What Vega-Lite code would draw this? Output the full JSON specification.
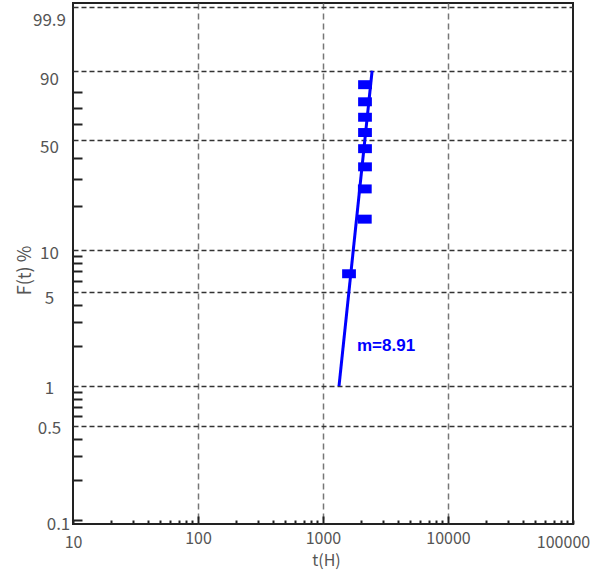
{
  "$schema": "https://vega.github.io/schema/vega-lite/v6.json",
  "width": 500,
  "height": 521,
  "autosize": "none",
  "padding": {"left": 73, "top": 3, "right": 35, "bottom": 49},
  "background": "white",
  "config": {
    "view": {"stroke": "#222", "strokeWidth": 2},
    "font": "Noto Sans CJK JP"
  },
  "datasets": {
    "fit": [{"t": 1343, "F": 1}, {"t": 2471, "F": 90}],
    "obs": [
      {"t": 1615, "F": 6.73},
      {"t": 2160, "F": 16.35},
      {"t": 2160, "F": 25.96},
      {"t": 2168, "F": 35.58},
      {"t": 2168, "F": 45.19},
      {"t": 2168, "F": 54.81},
      {"t": 2168, "F": 64.42},
      {"t": 2168, "F": 74.04},
      {"t": 2168, "F": 83.65}
    ],
    "note": [{"t": 1871, "F": 1.99, "label": "m=8.91"}]
  },
  "encoding": {
    "x": {
      "field": "t",
      "type": "quantitative",
      "scale": {"type": "log", "domain": [10, 100000], "nice": false},
      "axis": {
        "values": [10, 20, 30, 40, 50, 60, 70, 80, 90, 100, 200, 300, 400, 500, 600, 700, 800, 900, 1000, 2000, 3000, 4000, 5000, 6000, 7000, 8000, 9000, 10000, 20000, 30000, 40000, 50000, 60000, 70000, 80000, 90000, 100000],
        "labelExpr": "indexof([10,100,1000,10000,100000], datum.value) >= 0 ? format(datum.value, 'd') : ''",
        "labelFontSize": 16,
        "labelColor": "#555",
        "labelFlush": false,
        "labelOverlap": false,
        "labelBound": false,
        "labelPadding": 14,
        "labelOffset": {"condition": {"test": "datum.value == 100000", "value": -10}, "value": 0},
        "domain": false,
        "grid": true,
        "gridColor": "#777",
        "gridDash": [6, 4],
        "gridWidth": 1.5,
        "gridOpacity": {"condition": {"test": "datum.value == 100 || datum.value == 1000 || datum.value == 10000", "value": 1}, "value": 0},
        "ticks": true,
        "tickColor": "#222",
        "tickWidth": 2,
        "tickSize": {"condition": {"test": "datum.value == 100 || datum.value == 1000 || datum.value == 10000", "value": -8}, "value": -4},
        "title": "t(H)",
        "titleFontSize": 16,
        "titleFontWeight": "normal",
        "titleColor": "#555",
        "titleX": 253,
        "titleY": 36,
        "titleAlign": "center",
        "titleBaseline": "middle"
      }
    },
    "y": {
      "field": "W",
      "type": "quantitative",
      "scale": {"domain": [-6.976, 2.0015], "nice": false, "zero": false},
      "axis": {
        "values": [-6.90725, -6.21361, -5.80765, -5.51947, -5.29582, -5.11299, -4.95833, -4.82431, -4.70601, -4.60015, -3.90193, -3.4914, -3.19853, -2.97019, -2.78262, -2.62319, -2.48433, -2.36117, -2.25037, -1.49994, -1.03093, -0.67173, -0.36651, -0.08742, 0.18563, 0.47588, 0.83403, 1.93264],
        "labelExpr": "indexof([-6.90725,-5.29582,-4.60015,-2.97019,-2.25037,-0.36651,0.83403,1.93264], datum.value) >= 0 ? format((1 - exp(-exp(datum.value))) * 100, '.3~r') : ''",
        "labelFontSize": 17,
        "labelColor": "#555",
        "labelAlign": "center",
        "labelOverlap": false,
        "labelBound": false,
        "labelFlush": false,
        "labelPadding": 24,
        "labelOffset": {
          "condition": [
            {"test": "datum.value > 1.9", "value": 14},
            {"test": "datum.value > 0.8", "value": 9},
            {"test": "datum.value > -0.4", "value": 7},
            {"test": "datum.value > -2.3", "value": 4},
            {"test": "datum.value > -3.0", "value": 7},
            {"test": "datum.value > -4.7", "value": 2},
            {"test": "datum.value > -5.3", "value": 2}
          ],
          "value": 4
        },
        "domain": false,
        "grid": true,
        "gridColor": "#333",
        "gridDash": [5, 3],
        "gridWidth": 1.5,
        "gridOpacity": {"condition": {"test": "indexof([-5.29582,-4.60015,-2.97019,-2.25037,-0.36651,0.83403,1.93264], datum.value) >= 0", "value": 1}, "value": 0},
        "ticks": true,
        "tickColor": "#222",
        "tickWidth": 2,
        "tickSize": {"condition": {"test": "indexof([-5.29582,-4.60015,-2.97019,-2.25037,-0.36651,0.83403,1.93264], datum.value) >= 0", "value": 0}, "value": -9},
        "title": "F(t) %",
        "titleFontSize": 18,
        "titleFontWeight": "normal",
        "titleColor": "#555",
        "titleAngle": -90,
        "titleX": -48,
        "titleY": 267,
        "titleAlign": "center",
        "titleBaseline": "middle"
      }
    }
  },
  "layer": [
    {
      "data": {"name": "fit"},
      "transform": [{"calculate": "log(-log(1 - datum.F / 100))", "as": "W"}],
      "mark": {"type": "line", "color": "#0000FF", "strokeWidth": 3, "clip": true}
    },
    {
      "data": {"name": "obs"},
      "transform": [{"calculate": "log(-log(1 - datum.F / 100))", "as": "W"}],
      "mark": {"type": "point", "filled": true, "color": "#0000FF", "opacity": 1, "size": 190, "shape": "M-1,-0.65L1,-0.65L1,0.65L-1,0.65Z"}
    },
    {
      "data": {"name": "note"},
      "transform": [{"calculate": "log(-log(1 - datum.F / 100))", "as": "W"}],
      "mark": {"type": "text", "align": "left", "baseline": "middle", "font": "Liberation Sans", "fontWeight": "bold", "fontSize": 17, "color": "#0000FF"},
      "encoding": {"text": {"field": "label"}}
    }
  ]
}
